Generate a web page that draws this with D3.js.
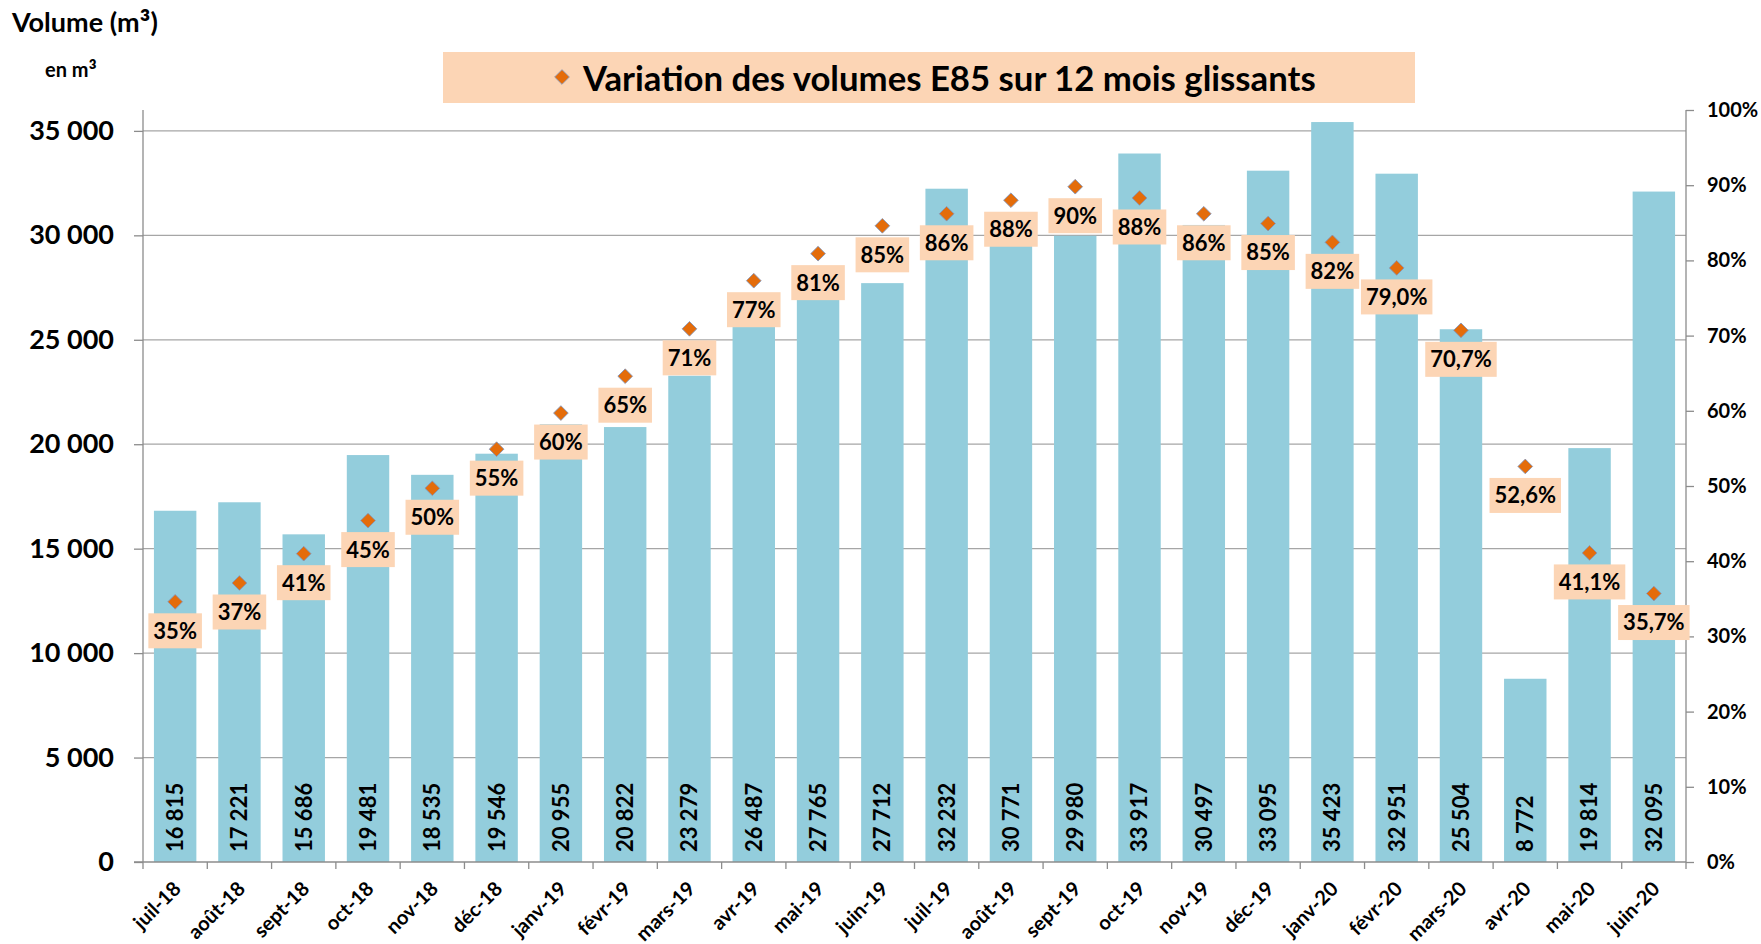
<!DOCTYPE html>
<html>
<head>
<meta charset="utf-8">
<script src="https://cdn.jsdelivr.net/npm/d3@7/dist/d3.min.js"></script>
<style>
  html, body { margin: 0; padding: 0; background: #fff; overflow: hidden; }
  svg { display: block; }
  text { font-family: Lato, "Open Sans", sans-serif; font-weight: bold; fill: #000; }
</style>
</head>
<body>
<svg id="chart" width="1761" height="944"></svg>
<script>
const categories = ["juil-18","août-18","sept-18","oct-18","nov-18","déc-18","janv-19","févr-19","mars-19","avr-19","mai-19","juin-19","juil-19","août-19","sept-19","oct-19","nov-19","déc-19","janv-20","févr-20","mars-20","avr-20","mai-20","juin-20"];
const volumes = [16815,17221,15686,19481,18535,19546,20955,20822,23279,26487,27765,27712,32232,30771,29980,33917,30497,33095,35423,32951,25504,8772,19814,32095];
const variation = [0.346,0.371,0.410,0.454,0.497,0.549,0.597,0.646,0.709,0.773,0.809,0.846,0.862,0.880,0.898,0.883,0.862,0.849,0.824,0.790,0.707,0.526,0.411,0.357];
const variationDecimals = [0,0,0,0,0,0,0,0,0,0,0,0,0,0,0,0,0,0,0,1,1,1,1,1];
const leftTicks = [0,5000,10000,15000,20000,25000,30000,35000];
const rightTicks = [0,0.1,0.2,0.3,0.4,0.5,0.6,0.7,0.8,0.9,1.0];
const legendLabel = "Variation des volumes E85 sur 12 mois glissants";
const yTitleParts = ["Volume (m", "³", ")"];
const yUnitParts = ["en m", "³"];

const fr = d3.formatLocale({decimal: ",", thousands: " ", grouping: [3], currency: ["", " €"], percent: "%"});
const fmtNum = fr.format(",d");

const svg = d3.select("#chart");
const X0 = 143, X1 = 1686, Y0 = 862, YT = 110;

const x = d3.scaleBand().domain(categories).range([X0, X1]).paddingInner(0.34).paddingOuter(0.17);
const yL = d3.scaleLinear().domain([0, 36000]).range([Y0, YT]);
const yR = d3.scaleLinear().domain([0, 1]).range([Y0, YT]);
const cx = c => x(c) + x.bandwidth() / 2;

const GRID = "#A6A6A6", AXIS = "#8C8C8C";

// gridlines
svg.append("g").selectAll("line").data(leftTicks.filter(d => d > 0)).join("line")
  .attr("x1", X0).attr("x2", X1).attr("y1", d => yL(d)).attr("y2", d => yL(d))
  .attr("stroke", GRID).attr("stroke-width", 1.3);

// bars
svg.append("g").selectAll("rect").data(categories).join("rect")
  .attr("x", c => x(c)).attr("width", x.bandwidth())
  .attr("y", (c, i) => yL(volumes[i])).attr("height", (c, i) => Y0 - yL(volumes[i]))
  .attr("fill", "#93CDDC");

// axes
const gL = svg.append("g").attr("transform", `translate(${X0},0)`)
  .call(d3.axisLeft(yL).tickValues(leftTicks).tickSize(9).tickPadding(20).tickFormat(fmtNum));
gL.select(".domain").remove();
gL.selectAll(".tick line").attr("stroke", AXIS).attr("stroke-width", 1.3);
gL.selectAll(".tick text").style("font-size", "27px").style("font-family", "Lato").attr("fill", "#000");

const gR = svg.append("g").attr("transform", `translate(${X1},0)`)
  .call(d3.axisRight(yR).tickValues(rightTicks).tickSize(8).tickPadding(13).tickFormat(d3.format(".0%")));
gR.select(".domain").remove();
gR.selectAll(".tick line").attr("stroke", AXIS).attr("stroke-width", 1.3);
gR.selectAll(".tick text").style("font-size", "20px").style("font-family", "Lato").attr("fill", "#000");

// axis lines
svg.append("line").attr("x1", X0).attr("x2", X0).attr("y1", YT).attr("y2", Y0).attr("stroke", AXIS).attr("stroke-width", 1.3);
svg.append("line").attr("x1", X1).attr("x2", X1).attr("y1", YT).attr("y2", Y0).attr("stroke", AXIS).attr("stroke-width", 1.3);
svg.append("line").attr("x1", X0 - 9).attr("x2", X1).attr("y1", Y0).attr("y2", Y0).attr("stroke", AXIS).attr("stroke-width", 1.3);

// bottom ticks at band boundaries
const boundaries = categories.map(c => x(c) - x.step() * x.paddingInner() / 2).concat([X1]);
svg.append("g").selectAll("line").data(boundaries).join("line")
  .attr("x1", d => d).attr("x2", d => d).attr("y1", Y0).attr("y2", Y0 + 7)
  .attr("stroke", AXIS).attr("stroke-width", 1.3);

// category labels
svg.append("g").selectAll("text").data(categories).join("text")
  .attr("transform", c => `translate(${cx(c) - 3},${Y0 + 18}) rotate(-45)`)
  .attr("text-anchor", "end").attr("dy", "0.71em")
  .style("font-size", "20px").text(c => c);

// volume labels inside bars
svg.append("g").selectAll("text").data(categories).join("text")
  .attr("transform", c => `translate(${cx(c)},${Y0 - 10}) rotate(-90)`)
  .attr("text-anchor", "start").attr("dy", "0.36em")
  .style("font-size", "22px").text((c, i) => fmtNum(volumes[i]));

// diamonds
const diamond = d3.symbol().type(d3.symbolSquare).size(108);
svg.append("g").selectAll("path").data(categories).join("path")
  .attr("d", diamond)
  .attr("transform", (c, i) => `translate(${cx(c)},${yR(variation[i])}) rotate(45)`)
  .attr("fill", "#E46C0A").attr("stroke", "#7F96BE").attr("stroke-width", 0.8);

// percentage labels with boxes
const pctLabel = i => fr.format(`.${variationDecimals[i]}%`)(variation[i]);
const gLab = svg.append("g");
categories.forEach((c, i) => {
  const g = gLab.append("g").attr("transform", `translate(${cx(c)},${yR(variation[i]) + 29})`);
  const rect = g.append("rect").attr("fill", "#FCD5B5");
  const t = g.append("text").attr("text-anchor", "middle").attr("dy", "0.36em")
    .style("font-size", "22px").text(pctLabel(i));
  const w = t.node().getComputedTextLength() + 10;
  rect.attr("x", -w / 2).attr("y", -17.5).attr("width", w).attr("height", 35);
});

// legend
const lg = svg.append("g");
lg.append("rect").attr("x", 443).attr("y", 52).attr("width", 972).attr("height", 51).attr("fill", "#FCD5B5");
lg.append("path").attr("d", diamond).attr("transform", "translate(562,77) rotate(45)")
  .attr("fill", "#E46C0A").attr("stroke", "#7F96BE").attr("stroke-width", 0.8);
const lt = lg.append("text").attr("x", 583).attr("y", 78).attr("dy", "0.36em")
  .style("font-size", "31px").text(legendLabel);
const lw = lt.node().getComputedTextLength();
lt.style("font-size", (31 * 733 / lw) + "px");

// titles
const t1 = svg.append("text").attr("x", 12).attr("y", 32).style("font-size", "27px");
t1.append("tspan").text(yTitleParts[0]);
t1.append("tspan").style("font-size", "33px").attr("dy", "4").text(yTitleParts[1]);
t1.append("tspan").attr("dy", "-4").text(yTitleParts[2]);
const t2 = svg.append("text").attr("x", 45).attr("y", 77).style("font-size", "20px");
t2.append("tspan").text(yUnitParts[0]);
t2.append("tspan").style("font-size", "25px").attr("dy", "3").text(yUnitParts[1]);
</script>
</body>
</html>
